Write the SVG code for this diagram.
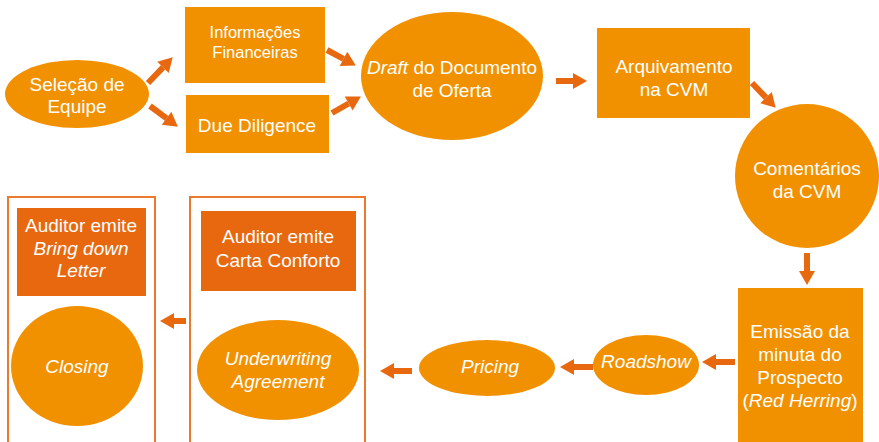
<svg xmlns="http://www.w3.org/2000/svg" width="879" height="442" viewBox="0 0 879 442">
<defs>
<style>
.n{fill:#F29100}
.d{fill:#E8680F}
.p{fill:none;stroke:#EC7A2E;stroke-width:2}
text{font-family:"Liberation Sans",Arial,sans-serif;fill:#FFFFFF;font-size:19px;text-anchor:middle}
.s{font-size:16.5px}
.i{font-style:italic}
.c line{stroke:#E8680F;stroke-width:6;marker-end:url(#ah)}
</style>
<marker id="ah" markerUnits="userSpaceOnUse" markerWidth="14" markerHeight="16" refX="0" refY="8" orient="auto" overflow="visible">
<path d="M0,0 L14,8 L0,16 Z" fill="#E8680F"/>
</marker>
</defs>
<rect width="879" height="442" fill="#FFFFFF"/>

<g id="panel-closing"><rect class="p" x="8" y="197" width="147" height="260"/></g>
<g id="panel-underwriting"><rect class="p" x="190" y="197" width="175" height="260"/></g>

<g id="selecao"><ellipse class="n" cx="77" cy="94" rx="72" ry="34"/><text x="77" y="91">Seleção de</text><text x="77" y="113">Equipe</text></g>
<g id="info"><rect class="n" x="185" y="7" width="140" height="76"/><text class="s" x="255" y="38">Informações</text><text class="s" x="255" y="58">Financeiras</text></g>
<g id="due"><rect class="n" x="186" y="95" width="143" height="58"/><text x="257" y="132">Due Diligence</text></g>
<g id="draft"><ellipse class="n" cx="452" cy="76" rx="91" ry="64"/><text x="452" y="74"><tspan class="i">Draft</tspan> do Documento</text><text x="452" y="97">de Oferta</text></g>
<g id="arquivamento"><rect class="n" x="597" y="28" width="153" height="90"/><text x="674" y="73">Arquivamento</text><text x="674" y="96">na CVM</text></g>
<g id="comentarios"><ellipse class="n" cx="807" cy="176" rx="72" ry="72"/><text x="807" y="175">Comentários</text><text x="807" y="198">da CVM</text></g>
<g id="emissao"><rect class="n" x="738" y="288" width="125" height="160"/><text x="800" y="338">Emissão da</text><text x="800" y="361">minuta do</text><text x="800" y="384">Prospecto</text><text x="800" y="407">(<tspan class="i">Red Herring</tspan>)</text></g>
<g id="roadshow"><ellipse class="n" cx="646" cy="365" rx="53" ry="30"/><text class="i" x="646" y="368">Roadshow</text></g>
<g id="pricing"><ellipse class="n" cx="487" cy="368" rx="68" ry="28"/><text class="i" x="490" y="373">Pricing</text></g>
<g id="carta"><rect class="d" x="201" y="211" width="155" height="80"/><text x="278" y="243">Auditor emite</text><text x="278" y="267">Carta Conforto</text></g>
<g id="underwriting"><ellipse class="n" cx="278" cy="370" rx="81" ry="50"/><text class="i" x="278" y="365">Underwriting</text><text class="i" x="278" y="388">Agreement</text></g>
<g id="bringdown"><rect class="d" x="17" y="208" width="129" height="88"/><text x="81" y="232">Auditor emite</text><text class="i" x="81" y="255">Bring down</text><text class="i" x="81" y="277">Letter</text></g>
<g id="closing"><ellipse class="n" cx="77" cy="366" rx="66" ry="60"/><text class="i" x="77" y="373">Closing</text></g>

<g id="connectors" class="c">
<line x1="148" y1="83" x2="163" y2="67.4"/>
<line x1="150" y1="106" x2="166.6" y2="118.3"/>
<line x1="327" y1="50" x2="343.5" y2="58.9"/>
<line x1="332" y1="113" x2="348.7" y2="103.5"/>
<line x1="556" y1="81" x2="573" y2="81"/>
<line x1="752" y1="83" x2="766" y2="97.6"/>
<line x1="807" y1="253" x2="807" y2="271"/>
<line x1="735" y1="362" x2="716" y2="362"/>
<line x1="593" y1="367" x2="574" y2="367"/>
<line x1="412" y1="371" x2="394" y2="371"/>
<line x1="186" y1="321" x2="174" y2="321"/>
</g>
</svg>
